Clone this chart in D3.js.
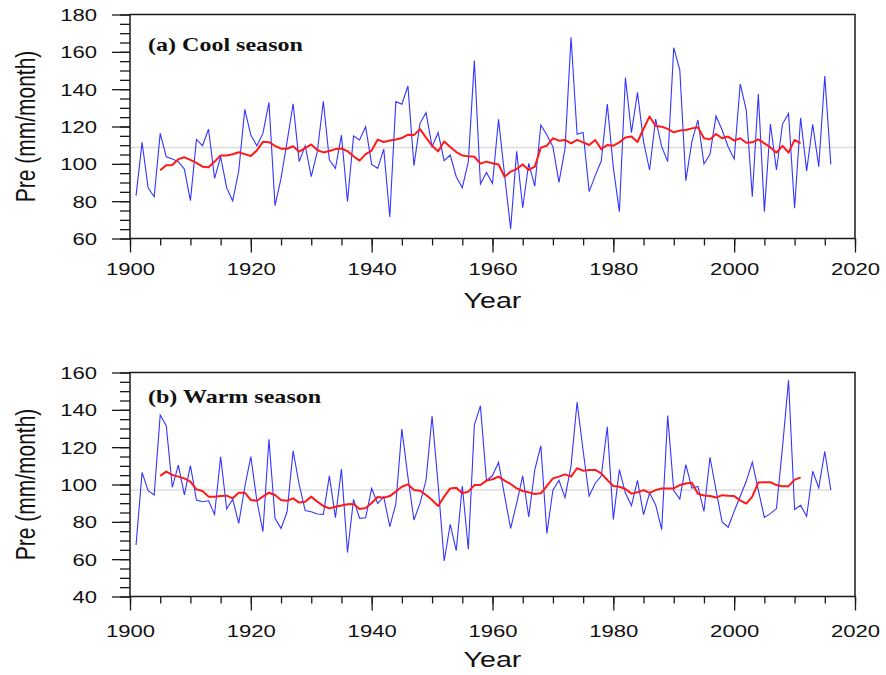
<!DOCTYPE html>
<html>
<head>
<meta charset="utf-8">
<script src="https://cdn.jsdelivr.net/npm/d3@7"></script>
<style>
  body { margin: 0; background: #fff; }
  #chart { width: 886px; height: 675px; }
</style>
</head>
<body>
<div id="chart"></div>
<script>
// Annual precipitation (blue) and running mean (red), 1901-2016
const firstYear = 1901;
const runFirstYear = 1905;

const coolPre = [
  83, 111.5, 87.2, 82.4, 116.3, 103.8, 102.6, 101.2, 97.2, 80.3,
  113.1, 109.7, 118.5, 92.2, 103.8, 87.2, 80.1, 96.3, 129.2, 115.4,
  109.7, 116.3, 132.9, 77.6, 92.2, 111.9, 132.2, 101.2, 109.7, 93.1,
  106.5, 133.5, 102.1, 97.6, 115.4, 79.8, 114.9, 112.8, 119.9, 99.7,
  97.6, 107.9, 71.5, 133.3, 131.9, 141.7, 99, 121.7, 127.4, 109.2,
  116.7, 101.7, 104.7, 93.1, 87.2, 101.2, 155.3, 89.2, 95.4, 89.5,
  123.8, 94, 65.1, 106.7, 76.5, 100.3, 88, 120.8, 115.4, 109.2,
  90.1, 108, 167.8, 115.8, 116.8, 85.1, 93.7, 101.5, 132, 98,
  74.4, 146.2, 116.7, 138.3, 111.9, 96.7, 124, 109.2, 101.2, 162.2,
  150.3, 91, 111.9, 123.5, 99.9, 105.1, 125.6, 118.1, 109.2, 102.6,
  142.8, 128.8, 82.4, 137.4, 74.4, 121.3, 96.7, 121.3, 127, 76.2,
  124.7, 96.2, 121.2, 98.5, 147.1, 99.7
];
const coolRun = [
  96.5, 99.3, 99.4, 102.5, 103.5, 102.1,
  100.5, 98.5, 98.2, 101.2, 104.5, 104.5, 105.1, 106.2, 105.2, 104.2,
  107.2, 111.8, 111.6, 109.6, 108.1, 108.1, 109.4, 106.5, 108.4, 110.4,
  107.4, 106.1, 106.9, 107.9, 108.2, 106.8, 104.1, 101.7, 105.2, 107.1,
  113, 111.7, 112.5, 113, 113.8, 115.6, 115.4, 118.6, 114, 109.7,
  106.7, 112, 109, 106.3, 104.5, 104, 103.8, 100.1, 101.2, 100.3,
  99.7, 93.1, 95.8, 97.2, 99.7, 96.7, 98.5, 108.7, 109.7, 113.7,
  112.4, 112.8, 111, 112.8, 111.5, 110.1, 112.8, 107.9, 110.1, 109.7,
  111.5, 114.1, 114.6, 111.7, 118.8, 125.4, 120.3, 119.9, 118.7, 116.9,
  117.8, 118.1, 119, 119.6, 113.7, 113.1, 116, 113.7, 114.6, 112.4,
  113.7, 111.3, 111.5, 113.1, 111, 108.8, 106, 109.6, 106, 112.8, 111
];
const warmPre = [
  67.6, 106.5, 96.7, 94.4, 137.2, 131.5, 98.5, 110.4, 94.4, 110.1,
  91.7, 90.8, 91.3, 84, 114.9, 86.9, 92, 79.2, 98.8, 114.9,
  91.3, 74.7, 124.2, 81.9, 76.5, 85.4, 118, 100, 86, 85.4,
  84.2, 84, 104.6, 82.2, 108.3, 63.6, 92, 81.9, 82.2, 97.9,
  89.9, 93.5, 77.4, 89.6, 129.7, 104, 81, 89.9, 102.4, 136.7,
  100, 59, 78.7, 64.6, 99.2, 65.3, 131.9, 142.1, 102.1, 104.8,
  111.9, 94, 76.5, 89.9, 104.6, 82.6, 107.9, 120.8, 73.8, 96.9,
  102.3, 93, 110, 144.1, 118.1, 93.8, 100.7, 104.5, 130.9, 81.3,
  108, 95.4, 88.7, 102.2, 83.8, 95.4, 89.2, 75.8, 136.9, 96.7,
  92.2, 110.6, 98.1, 99, 85.6, 114.6, 97, 79.9, 77.1, 85.6,
  93.7, 101.7, 112, 97, 82.4, 84.4, 87.1, 120, 155.8, 86.6,
  88.8, 83, 107.1, 98.2, 117.7, 97
];
const warmRun = [
  104.6, 106.9, 105.1, 104.2, 103.3, 101.5,
  97.4, 96.5, 93.5, 93.5, 93.8, 94, 92.6, 95.6, 95.6, 91.7,
  91.3, 93.5, 95.6, 94.4, 91.7, 91.3, 92.6, 90.3, 90.8, 93.5,
  90.8, 88.5, 87.2, 88.1, 88.7, 89.4, 89.6, 86.9, 87.4, 90.1,
  93.3, 92.9, 93.8, 96.2, 98.8, 100.1, 97.1, 96.7, 94.4, 91.7,
  88.5, 93.5, 97.9, 98.3, 95.3, 96.2, 99.7, 99.7, 102.1, 102.8,
  104.2, 102.1, 100.3, 97.9, 96.5, 95.8, 94.9, 95.3, 99.2, 103.3,
  104.2, 105.4, 104.2, 108.7, 107.4, 107.8, 107.8, 106, 102.4, 99.2,
  98.8, 97.6, 95.1, 95.8, 97, 95.5, 97, 97.9, 97.9, 97.9,
  99.7, 100.5, 100.9, 95, 94.1, 93.8, 93, 94.3, 94, 93.8,
  91.5, 89.8, 93.5, 101.1, 101.2, 101.2, 99.7, 99.1, 99.1, 102.5, 103.8
];

// climatological means (grey reference line) and the years it spans
const coolMean = 108.8;
const warmMean = 97.0;
const coolMeanSpan = [1900, 2020];
const warmMeanSpan = [1900, 2016];

const xTickYears = [1900, 1920, 1940, 1960, 1980, 2000, 2020];
const coolYTicks = [60, 80, 100, 120, 140, 160, 180];
const warmYTicks = [40, 60, 80, 100, 120, 140, 160];
const panelTitles = ['(a) Cool season', '(b) Warm season'];
const xTitle = 'Year';
const yTitle = 'Pre (mm/month)';

// the source picture is stretched sideways, so all text gets the same stretch
const SX = 1.3;

class SeasonPanel {

    constructor(svg, opts) {
        this.svg = svg;
        Object.assign(this, opts);
        this.initVis();
    }

    initVis() {
        let vis = this;

        vis.left = 130;
        vis.right = 855;

        vis.x = d3.scaleLinear().domain([1900, 2020]).range([vis.left, vis.right]);
        vis.y = d3.scaleLinear().domain(d3.extent(vis.yTicks)).range([vis.bottom, vis.top]);

        vis.g = vis.svg.append('g');

        // minor ticks every 5 units
        let minorX = d3.range(1900, 2021, 5);
        let minorY = d3.range(vis.yTicks[0], vis.yTicks[vis.yTicks.length - 1] + 1, 5);

        vis.g.append('g')
            .attr('class', 'axis')
            .attr('transform', `translate(0, ${vis.bottom})`)
            .call(d3.axisBottom(vis.x).tickValues(minorX).tickSize(7).tickFormat(''));

        vis.g.append('g')
            .attr('class', 'axis')
            .attr('transform', `translate(${vis.left}, 0)`)
            .call(d3.axisLeft(vis.y).tickValues(minorY).tickSize(10).tickFormat(''));

        // major ticks + labels
        vis.xAxis = vis.g.append('g')
            .attr('class', 'axis')
            .attr('transform', `translate(0, ${vis.bottom})`)
            .call(d3.axisBottom(vis.x).tickValues(xTickYears).tickSize(14).tickFormat(d => d));

        vis.xAxis.selectAll('text')
            .attr('y', vis.xLabelDy)
            .attr('dy', 0)
            .attr('transform', `scale(${SX},1)`);

        vis.yAxis = vis.g.append('g')
            .attr('class', 'axis')
            .attr('transform', `translate(${vis.left}, 0)`)
            .call(d3.axisLeft(vis.y).tickValues(vis.yTicks).tickSize(18));

        vis.yAxis.selectAll('text')
            .attr('x', -33 / SX)
            .attr('dy', '0.36em')
            .attr('transform', `scale(${SX},1)`);

        vis.g.selectAll('.axis path.domain').remove();
        vis.g.selectAll('.axis line')
            .attr('stroke', '#1a1a1a')
            .attr('stroke-width', 1.3);
        vis.g.selectAll('.axis text')
            .attr('fill', '#111')
            .attr('font-family', '"Liberation Sans", Arial, sans-serif')
            .attr('font-size', 17);

        // grey mean line
        vis.g.append('line')
            .attr('x1', vis.x(vis.meanSpan[0]))
            .attr('x2', vis.x(vis.meanSpan[1]))
            .attr('y1', vis.y(vis.mean))
            .attr('y2', vis.y(vis.mean))
            .attr('stroke', '#dcdcdc')
            .attr('stroke-width', 1.5);

        let line = d3.line()
            .x(d => vis.x(d.year))
            .y(d => vis.y(d.value));

        let annual = vis.annual.map((v, i) => ({year: firstYear + i, value: v}));
        let running = vis.running.map((v, i) => ({year: runFirstYear + i, value: v}));

        vis.g.append('path')
            .datum(annual)
            .attr('d', line)
            .attr('fill', 'none')
            .attr('stroke', '#3535ff')
            .attr('stroke-width', 1.1);

        vis.g.append('path')
            .datum(running)
            .attr('d', line)
            .attr('fill', 'none')
            .attr('stroke', '#ff1a1a')
            .attr('stroke-width', 2)
            .attr('stroke-linejoin', 'round');

        // frame
        vis.g.append('rect')
            .attr('x', vis.left)
            .attr('y', vis.top)
            .attr('width', vis.right - vis.left)
            .attr('height', vis.bottom - vis.top)
            .attr('fill', 'none')
            .attr('stroke', '#1a1a1a')
            .attr('stroke-width', 1.5);

        // panel title
        vis.g.append('text')
            .attr('transform', `translate(148, ${vis.titleY}) scale(${SX},1)`)
            .attr('font-family', '"Liberation Serif", "Times New Roman", serif')
            .attr('font-weight', 'bold')
            .attr('font-size', 18.5)
            .attr('fill', '#111')
            .text(vis.title);

        // axis titles
        vis.g.append('text')
            .attr('transform', `translate(${(vis.left + vis.right) / 2}, ${vis.bottom + vis.xTitleDy}) scale(${SX},1)`)
            .attr('text-anchor', 'middle')
            .attr('font-family', '"Liberation Sans", Arial, sans-serif')
            .attr('font-size', 22)
            .attr('fill', '#111')
            .text(xTitle);

        vis.g.append('text')
            .attr('transform', `translate(35, ${(vis.top + vis.bottom) / 2}) scale(${SX},1) rotate(-90)`)
            .attr('text-anchor', 'middle')
            .attr('font-family', '"Liberation Sans", Arial, sans-serif')
            .attr('font-size', 21)
            .attr('fill', '#111')
            .text(yTitle);
    }
}

let svg = d3.select('#chart')
    .append('svg')
    .attr('width', 886)
    .attr('height', 675);

new SeasonPanel(svg, {
    top: 14.5, bottom: 238.5,
    yTicks: coolYTicks,
    annual: coolPre, running: coolRun,
    mean: coolMean, meanSpan: coolMeanSpan,
    title: panelTitles[0], titleY: 51,
    xLabelDy: 37, xTitleDy: 69
});

new SeasonPanel(svg, {
    top: 372.5, bottom: 596.5,
    yTicks: warmYTicks,
    annual: warmPre, running: warmRun,
    mean: warmMean, meanSpan: warmMeanSpan,
    title: panelTitles[1], titleY: 403,
    xLabelDy: 41, xTitleDy: 70
});
</script>
</body>
</html>
